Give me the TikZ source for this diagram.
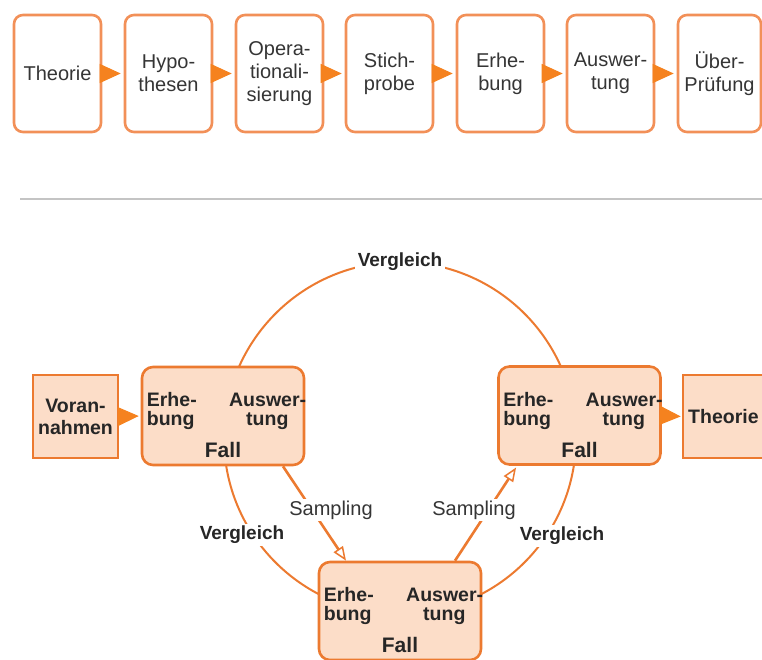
\documentclass[tikz,border=0pt]{standalone}
\usepackage{fontspec}
\setmainfont{Liberation Sans}
\usetikzlibrary{arrows.meta,calc}
\definecolor{orB}{HTML}{EC7A30}
\definecolor{orT}{HTML}{F29058}
\definecolor{orF}{HTML}{F5821F}
\definecolor{peach}{HTML}{FCDDC8}
\definecolor{txt}{HTML}{353535}
\definecolor{sepc}{HTML}{C4C4C4}
\begin{document}
\begin{tikzpicture}[x=1pt,y=-1pt,
  topbox/.style={draw=orT, line width=2.6pt, rounded corners=9pt, fill=white,
    minimum width=87pt, minimum height=117pt, inner sep=0pt, align=center,
    font=\fontsize{20}{23}\selectfont, text=txt},
  fallbox/.style={draw=orB, line width=2.6pt, rounded corners=11pt, fill=peach,
    minimum width=162pt, minimum height=98pt, inner sep=0pt},
  sqbox/.style={draw=orB, line width=2.6pt, fill=peach, inner sep=0pt},
  bt/.style={inner sep=0pt, font=\bfseries\fontsize{19.5}{22}\selectfont, text=black!85},
  tri/.style={orF, line width=1pt, -{Triangle[length=21pt,width=19pt]}, shorten >=3pt},
  arcline/.style={draw=orB, line width=2pt},
  vg/.style={fill=white, inner sep=2.5pt, font=\bfseries\fontsize{19}{22}\selectfont, text=black!85},
  smparrow/.style={draw=orB, line width=2.6pt, -{Triangle[open,length=14pt,width=11pt,line width=1.5pt,fill=white]}},
  smp/.style={fill=white, inner sep=2pt, font=\fontsize{20}{23}\selectfont, text=txt}
]
\useasboundingbox (0,0) rectangle (762,660);
\clip (0,0) rectangle (762,660);

% top row
\node[topbox] (t1) at (57.5,73.5) {Theorie};
\node[topbox] (t2) at (168.5,73.5) {Hypo-\\thesen};
\node[topbox] (t3) at (279.5,73.5) {Opera-\\tionali-\\sierung};
\node[topbox] (t4) at (389.5,73.5) {Stich-\\probe};
\node[topbox] (t5) at (500.5,73.5) {Erhe-\\bung};
\node[topbox] (t6) at (610.5,73.5) {Auswer-\\tung};
\node[topbox, minimum width=83pt] (t7) at (719.5,73.5) {Über-\\Prüfung};
\draw[tri] (t1.east) -- (t2.west);
\draw[tri] (t2.east) -- (t3.west);
\draw[tri] (t3.east) -- (t4.west);
\draw[tri] (t4.east) -- (t5.west);
\draw[tri] (t5.east) -- (t6.west);
\draw[tri] (t6.east) -- (t7.west);

% separator
\coordinate (sepL) at (20,199);
\coordinate (sepR) at (762,199);
\draw[sepc, line width=1.3pt] (sepL) -- (sepR);

% comparison circle
\coordinate (cc) at (400,438);
\draw[arcline] (cc) circle (176);

% boxes
\node[fallbox] (f1) at (223,416) {};
\node[fallbox] (f2) at (579.5,415.5) {};
\node[fallbox] (f3) at (400,611) {};
\node[sqbox, minimum width=85pt, minimum height=83pt] (vor) at (75.5,416.5) {};
\node[bt, align=center, font=\bfseries\fontsize{19.5}{22}\selectfont] (vort) at (vor.center) {Voran-\\nahmen};
\node[sqbox, minimum width=110pt, minimum height=83pt] (th) at (738,416.5) {};
\node[bt, anchor=base west] (tht) at (688,423) {Theorie};

\foreach \f in {f1,f2,f3}{
  \node[bt, anchor=base west] (\f e1) at ($(\f.north west)+(6,41)$) {Erhe-};
  \node[bt, anchor=base west] (\f e2) at ($(\f.north west)+(6,60)$) {bung};
  \node[bt, anchor=base east] (\f a1) at ($(\f.north east)+(1,41)$) {Auswer-};
  \node[bt, anchor=base] (\f a2) at ($(\f.north east)+(-38,60)$) {tung};
  \node[bt, anchor=base, font=\bfseries\fontsize{21}{24}\selectfont] (\f l) at ($(\f.north)+(0,92)$) {Fall};
}

\draw[tri, shorten >=2pt] (vor.east) -- (f1.west);
\draw[tri, shorten >=1pt] (f2.east) -- (th.west);

% sampling arrows
\draw[smparrow] ($(f1.south)+(60,0)$) -- ($(f3.north)+(-54,0)$);
\draw[smparrow, shorten >=2pt] ($(f3.north)+(55,0)$) -- ($(f2.south west)+(20,0)$);
\node[smp] (sl1) at (331,510) {Sampling};
\node[smp] (sl2) at (474,510) {Sampling};

% comparison labels
\node[vg] (v1) at (400,262) {Vergleich};
\node[vg] (v2) at (242,535) {Vergleich};
\node[vg] (v3) at (562,536) {Vergleich};
\end{tikzpicture}
\end{document}
